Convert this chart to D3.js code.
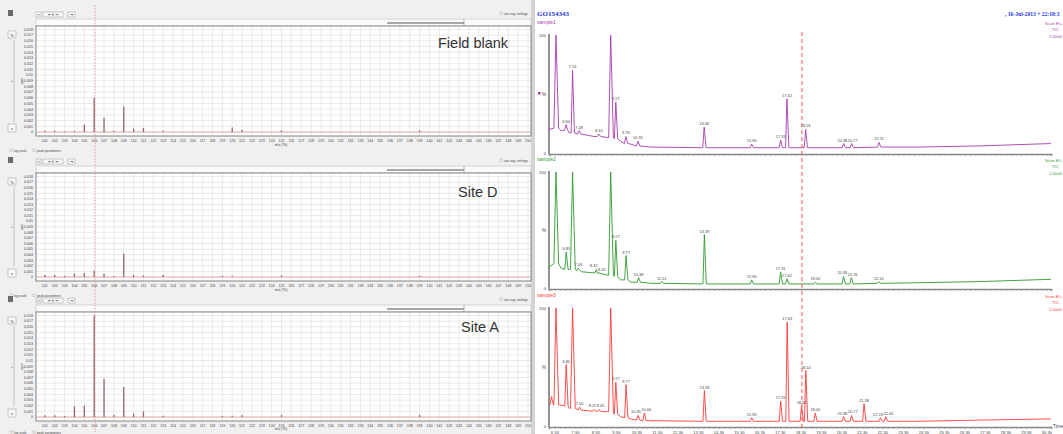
<!DOCTYPE html>
<html>
<head>
<meta charset="utf-8">
<script src="https://cdn.jsdelivr.net/npm/d3@7"></script>
<style>
  body { margin: 0; background: #fff; }
  svg { display: block; font-family: 'Liberation Sans', Arial, sans-serif; }
</style>
</head>
<body>
<div id="chart"></div>
<script>
// ---- left: mass spectra (m/z 101-150) ----
const masses = d3.range(101, 151);
const intensityTicks = d3.range(0, 19).map(i => i / 1000);

const fieldBlank = [[101, 0.0002], [102, 0.0002], [103, 0.0001], [104, 0.0002], [105, 0.0013], [106, 0.006],
    [107, 0.0025], [108, 0.0002], [109, 0.0045], [110, 0.0006], [111, 0.0007], [113, 0.0002], [120, 0.0008],
    [121, 0.0004], [125, 0.0003], [139, 0.0003]];
const siteD = [[101, 0.0004], [102, 0.0004], [103, 0.0002], [104, 0.0006], [105, 0.0007], [106, 0.0011],
    [107, 0.0006], [108, 0.0002], [109, 0.0042], [110, 0.0004], [111, 0.0003], [113, 0.0004], [119, 0.0002],
    [120, 0.0002], [125, 0.0003], [139, 0.0002]];
const siteA = [[101, 0.0003], [102, 0.0003], [103, 0.0002], [104, 0.0019], [105, 0.002], [106, 0.018],
    [107, 0.0068], [108, 0.0004], [109, 0.0053], [110, 0.0006], [111, 0.001], [113, 0.0002], [119, 0.0002],
    [120, 0.0002], [121, 0.0003], [125, 0.0004], [139, 0.0004]];
const siteNames = ['Field blank', 'Site D', 'Site A'];

// ---- right: TIC chromatograms, [time, %] ----
const timeTicks = d3.range(6, 31).map(i => i + 0.3);
const baseline1 = [[6.01, 20], [6.3, 22], [6.6, 19], [7.0, 17], [7.6, 16], [8.2, 14], [8.9, 13], [9.5, 10], [9.9, 8],
    [10.3, 6], [11, 5], [14, 4.5], [20, 4.5], [24, 5], [27, 6], [30.5, 8]];
const baseline2 = [[6.01, 18], [6.25, 21], [6.6, 17], [7.0, 16], [7.6, 14], [8.2, 13], [8.9, 11], [9.5, 7], [10, 5],
    [11, 4], [14, 3.5], [20, 3.5], [24, 4.5], [27, 5.5], [30.5, 7.5]];
const baseline3 = [[6.01, 18], [6.5, 18], [7.0, 15], [7.6, 13.5], [8.3, 12.5], [8.9, 12], [9.5, 8], [10, 6],
    [11, 4.5], [14, 4], [20, 4], [24, 4], [27, 5], [30.5, 6]];

// [time, height %, foot %, label]
const peaks1 = [[6.35, 100, 21, null], [6.84, 24, 19, '6.84'], [7.16, 70, 17, '7.16'], [7.48, 19, 16, '7.48'],
    [8.44, 16, 14, '8.44'], [9.02, 100, 13, null], [9.27, 43, 12, '9.27'], [9.76, 14, 8, '9.76'],
    [10.35, 10, 6, '10.35'], [13.58, 22, 4.5, '13.58'], [15.90, 7.5, 4.5, '15.90'], [17.31, 11, 4.5, '17.31'],
    [17.62, 46, 4.5, '17.62'], [18.53, 20, 4.5, '18.53'], [20.38, 8, 4.5, '20.38'], [20.77, 8, 4.5, '20.77'],
    [22.11, 9, 5, '22.11']];
const peaks2 = [[6.35, 100, 21, null], [6.85, 31, 16, '6.85'], [7.16, 100, 16, null], [7.44, 17, 15, '7.44'],
    [8.32, 16, 13, '8.32'], [8.45, 13, 12.5, '8.45'], [9.02, 100, 11, null], [9.27, 41, 10, '9.27'],
    [9.77, 28, 7, '9.77'], [10.38, 9, 5, '10.38'], [11.51, 5.5, 4, '11.51'], [13.59, 46, 3.5, '13.59'],
    [15.90, 7, 3.5, '15.90'], [17.31, 14, 3.5, '17.31'], [17.62, 8, 3.5, '17.62'], [19.00, 5, 3.5, '19.00'],
    [20.38, 10, 3.5, '20.38'], [20.76, 9, 3.5, '20.76'], [22.10, 5.5, 4, '22.10']];
const peaks3 = [[6.13, 25, 18, null], [6.35, 100, 18, null], [6.85, 52, 17, '6.85'], [7.16, 100, 15, null],
    [7.50, 16, 13.5, '7.50'], [8.21, 14, 12.5, '8.21'], [8.45, 14, 12.5, '8.45'], [9.02, 100, 12, null],
    [9.27, 37, 10, '9.27'], [9.77, 35, 7, '9.77'], [10.35, 9, 5, '10.35'], [10.66, 11, 4.5, '10.66'],
    [13.59, 30, 4, '13.59'], [15.90, 7, 4, '15.90'], [17.31, 21, 4, '17.31'], [17.63, 88, 4, '17.63'],
    [18.33, 17, 4, '18.33'], [18.54, 47, 4, '18.54'], [19.00, 11, 4, '19.00'], [20.38, 8, 4, '20.38'],
    [20.77, 9, 4, '20.77'], [21.38, 19, 4, '21.38'], [22.18, 7, 4, '22.18'], [22.44, 8, 4, '22.44']];
const sampleNames = ['sample1', 'sample2', 'sample3'];

const W = 1063, H = 434;
const svg = d3.select('#chart').append('svg').attr('width', W).attr('height', H);

// left background
svg.append('rect').attr('width', 533).attr('height', H).attr('fill', '#f0f0f0');
svg.append('rect').attr('x', 531).attr('width', 4).attr('height', H).attr('fill', '#d4d4d4');
svg.append('rect').attr('x', 535).attr('width', W - 535).attr('height', H).attr('fill', '#fff');

const mzX = d3.scaleLinear().domain([100.1, 150.3]).range([36, 531]);

function tinyText(g, x, y, txt, size, anchor, fill) {
    return g.append('text').attr('x', x).attr('y', y).attr('font-size', size)
        .attr('text-anchor', anchor || 'start').attr('fill', fill || '#555').text(txt);
}

function drawSpectrum(p, data, name) {
    const g = svg.append('g');
    const y = d3.scaleLinear().domain([0, 0.018]).range([p.bottom - 4, p.top + 3.5]);

    // toolbar
    g.append('rect').attr('x', 8).attr('y', p.top - 16).attr('width', 5).attr('height', 6).attr('fill', '#6a6a6a');
    [[36, 5, '≡'], [43, 20, '⇤ 6 ⇥'], [68, 7, '⇥']].forEach(b => {
        g.append('rect').attr('x', b[0]).attr('y', p.top - 14).attr('width', b[1]).attr('height', 5)
            .attr('fill', '#f8f8f8').attr('stroke', '#999').attr('stroke-width', 0.5);
        tinyText(g, b[0] + b[1] / 2, p.top - 10.3, b[2], 3.5, 'middle', '#444');
    });
    g.append('rect').attr('x', 500).attr('y', p.top - 14).attr('width', 2.5).attr('height', 2.5)
        .attr('fill', '#fff').attr('stroke', '#888').attr('stroke-width', 0.4);
    tinyText(g, 504, p.top - 11.5, 'use avg. settings', 3.2, 'start', '#444');

    // scroll bar above the plot
    g.append('rect').attr('x', 36).attr('y', p.top - 7).attr('width', 495).attr('height', 7)
        .attr('fill', '#fafafa').attr('stroke', '#b5b5b5').attr('stroke-width', 0.5);
    g.append('rect').attr('x', 387).attr('y', p.top - 4).attr('width', 77).attr('height', 2).attr('fill', '#a8a8a8');
    g.append('line').attr('x1', 464).attr('x2', 464).attr('y1', p.top - 7).attr('y2', p.top)
        .attr('stroke', '#888').attr('stroke-width', 0.6);

    // vertical slider at left
    g.append('rect').attr('x', 8).attr('y', p.top + 5).attr('width', 8).attr('height', 7)
        .attr('fill', '#f8f8f8').attr('stroke', '#999').attr('stroke-width', 0.5);
    tinyText(g, 12, p.top + 10.5, '%', 4, 'middle', '#333');
    g.append('line').attr('x1', 14).attr('x2', 14).attr('y1', p.top + 14).attr('y2', p.bottom - 14)
        .attr('stroke', '#aaa').attr('stroke-width', 0.6);
    g.append('rect').attr('x', 8).attr('y', p.bottom - 12).attr('width', 8).attr('height', 8)
        .attr('fill', '#f8f8f8').attr('stroke', '#999').attr('stroke-width', 0.5);
    tinyText(g, 12, p.bottom - 6.5, '±', 4, 'middle', '#333');
    tinyText(g, 12, (p.top + p.bottom) / 2 + 1, '+', 4, 'middle', '#555');
    tinyText(g, 0, 0, 'ppm', 3.2, 'middle', '#444')
        .attr('transform', `translate(23,${(p.top + p.bottom) / 2}) rotate(-90)`);

    // plot area
    g.append('rect').attr('x', 36).attr('y', p.top).attr('width', 495).attr('height', p.bottom - p.top)
        .attr('fill', '#fff');
    g.selectAll('.hgrid').data(intensityTicks).enter().append('line')
        .attr('x1', 36).attr('x2', 531).attr('y1', d => y(d)).attr('y2', d => y(d))
        .attr('stroke', '#dedede').attr('stroke-width', 0.6);
    g.selectAll('.vgrid').data(masses).enter().append('line')
        .attr('x1', d => mzX(d)).attr('x2', d => mzX(d)).attr('y1', p.top).attr('y2', p.bottom)
        .attr('stroke', '#dedede').attr('stroke-width', 0.6);
    g.append('rect').attr('x', 36).attr('y', p.top).attr('width', 495).attr('height', p.bottom - p.top)
        .attr('fill', 'none').attr('stroke', '#666').attr('stroke-width', 0.8);

    // zero line + sticks
    g.append('line').attr('x1', 37).attr('x2', 530).attr('y1', y(0)).attr('y2', y(0))
        .attr('stroke', '#e59a9a').attr('stroke-width', 0.8);
    g.selectAll('.stick').data(data).enter().append('line')
        .attr('x1', d => mzX(d[0])).attr('x2', d => mzX(d[0]))
        .attr('y1', y(0)).attr('y2', d => y(d[1]))
        .attr('stroke', '#946570').attr('stroke-width', 1.3);

    // axis labels
    g.selectAll('.ylab').data(intensityTicks).enter().append('text')
        .attr('x', 33).attr('y', d => y(d) + 1.3).attr('text-anchor', 'end')
        .attr('font-size', 3.6).attr('fill', '#444').text(d => String(+d.toFixed(3)));
    g.selectAll('.xlab').data(masses).enter().append('text')
        .attr('x', d => mzX(d)).attr('y', p.bottom + p.foot[0]).attr('text-anchor', 'middle')
        .attr('font-size', 3.6).attr('fill', '#444').text(d => d);
    tinyText(g, 281, p.bottom + p.foot[1], 'm/z (Th)', 3.4, 'middle', '#444');

    // checkboxes under the plot
    [[10, 'log scale'], [33, 'peak parameters']].forEach(c => {
        g.append('rect').attr('x', c[0]).attr('y', p.bottom + p.foot[2] - 2.5).attr('width', 2.5).attr('height', 2.5)
            .attr('fill', '#fff').attr('stroke', '#888').attr('stroke-width', 0.4);
        tinyText(g, c[0] + 4, p.bottom + p.foot[2], c[1], 3.2, 'start', '#444');
    });

    tinyText(g, p.labelX, p.labelY, name, 14.5, 'start', '#333');
}

const leftPanels = [
    { top: 26, bottom: 136, labelX: 438, labelY: 48, foot: [6, 10, 15.5] },
    { top: 173, bottom: 281, labelX: 458, labelY: 197, foot: [6, 10, 15.5] },
    { top: 312, bottom: 421, labelX: 461, labelY: 332, foot: [5.5, 9, 12.5] }
];
[fieldBlank, siteD, siteA].forEach((d, i) => drawSpectrum(leftPanels[i], d, siteNames[i]));

// dotted marker line through left spectra
svg.append('line').attr('x1', mzX(106.1)).attr('x2', mzX(106.1)).attr('y1', 5).attr('y2', H)
    .attr('stroke', '#ee8c8c').attr('stroke-width', 0.8).attr('stroke-dasharray', '1.5,1.5');

// ---- right panels ----
const tX = d3.scaleLinear().domain([6.01, 30.5]).range([549, 1051]);

svg.append('text').attr('x', 537).attr('y', 16).attr('font-family', "'Liberation Serif', serif")
    .attr('font-weight', 'bold').attr('font-size', 7).attr('fill', '#2233ee').text('GO154343');
svg.append('text').attr('x', 1005).attr('y', 16).attr('font-family', "'Liberation Serif', serif")
    .attr('font-weight', 'bold').attr('font-size', 5.6).attr('fill', '#2233ee').text(', 16-Jul-2013 + 22:18:3');

function tracePoints(baseline, peaks) {
    const pts = baseline.filter(b => !peaks.some(p => Math.abs(p[0] - b[0]) < 0.1));
    peaks.forEach(p => {
        const w = p[1] >= 90 ? 0.1 : 0.07;
        pts.push([p[0] - w, p[2]], [p[0], p[1]], [p[0] + w * 1.3, p[2]]);
    });
    return pts.sort((a, b) => a[0] - b[0]);
}

// push apart peak labels that collide on the same row
function spreadLabels(sel) {
    const items = sel.nodes().map(n => ({ n, x: +n.getAttribute('x'), y: +n.getAttribute('y'), w: n.getComputedTextLength() }));
    for (let i = 1; i < items.length; i++) {
        const a = items[i - 1], b = items[i];
        if (Math.abs(a.y - b.y) < 4.5) {
            const gap = (a.x + a.w / 2 + 0.6) - (b.x - b.w / 2);
            if (gap > 0) {
                a.x -= gap / 2; b.x += gap / 2;
                a.n.setAttribute('x', a.x); b.n.setAttribute('x', b.x);
            }
        }
    }
}

function drawChromatogram(c, baseline, peaks, name, color, showLabels) {
    const g = svg.append('g');
    const y = d3.scaleLinear().domain([0, 100]).range([c.zero, c.hundred]);

    tinyText(g, 537, c.hundred - 11, name, 5, 'start', color);
    tinyText(g, 1045, c.hundred - 10, 'Scan EI+', 4.2, 'start', color);
    tinyText(g, 1052, c.hundred - 4, 'TIC', 4.2, 'start', color);
    tinyText(g, 1049, c.hundred + 3, '1.00e6', 4.2, 'start', color);

    // y axis
    g.append('line').attr('x1', 549).attr('x2', 549).attr('y1', c.hundred - 1).attr('y2', c.zero + 1)
        .attr('stroke', '#777').attr('stroke-width', 1.6);
    tinyText(g, 546, c.hundred + 1.5, '100', 4.2, 'end', '#444');
    tinyText(g, 546, y(50) + 1.5, '%', 4.6, 'end', '#444');
    tinyText(g, 546, c.zero + 1.5, '0', 4.2, 'end', '#444');

    // x axis
    const axis = d3.axisBottom(tX).tickValues(d3.range(6.05, 30.5, 0.25)).tickSize(2).tickFormat('');
    const ax = g.append('g').attr('transform', `translate(0,${c.zero + 1})`).call(axis);
    ax.select('.domain').attr('stroke', '#888').attr('stroke-width', 1.6);
    ax.selectAll('.tick line').attr('stroke', '#888').attr('stroke-width', 0.5);
    if (showLabels) {
        g.selectAll('.tlab').data(timeTicks).enter().append('text')
            .attr('x', d => tX(d)).attr('y', c.zero + 7.5).attr('text-anchor', 'middle')
            .attr('font-size', 4.2).attr('fill', '#444').text(d => d.toFixed(2));
        tinyText(g, 1053, c.zero + 2, 'Time', 4.6, 'start', '#444');
    }

    const line = d3.line().x(d => tX(d[0])).y(d => y(d[1]));
    g.append('path').datum(tracePoints(baseline, peaks)).attr('d', line)
        .attr('fill', 'none').attr('stroke', color).attr('stroke-width', 0.9).attr('stroke-linejoin', 'round');

    const labels = g.selectAll('.plab').data(peaks.filter(p => p[3])).enter().append('text')
        .attr('x', d => tX(d[0])).attr('y', d => y(d[1]) - 2).attr('text-anchor', 'middle')
        .attr('font-size', 3.9).attr('fill', '#444').text(d => d[3]);
    spreadLabels(labels);
}

const rightPanels = [
    { zero: 153, hundred: 35 },
    { zero: 288, hundred: 172 },
    { zero: 426, hundred: 308 }
];
drawChromatogram(rightPanels[0], baseline1, peaks1, sampleNames[0], '#a63caa', false);
drawChromatogram(rightPanels[1], baseline2, peaks2, sampleNames[1], '#2f9a2f', false);
drawChromatogram(rightPanels[2], baseline3, peaks3, sampleNames[2], '#ff3a3a', true);

svg.append('rect').attr('x', 538).attr('y', 92).attr('width', 2.5).attr('height', 2.5).attr('fill', '#a63caa');

// dashed marker through chromatograms
svg.append('line').attr('x1', tX(18.35)).attr('x2', tX(18.35)).attr('y1', 32).attr('y2', 431)
    .attr('stroke', '#ff4040').attr('stroke-width', 0.9).attr('stroke-dasharray', '4,3');
</script>
</body>
</html>
